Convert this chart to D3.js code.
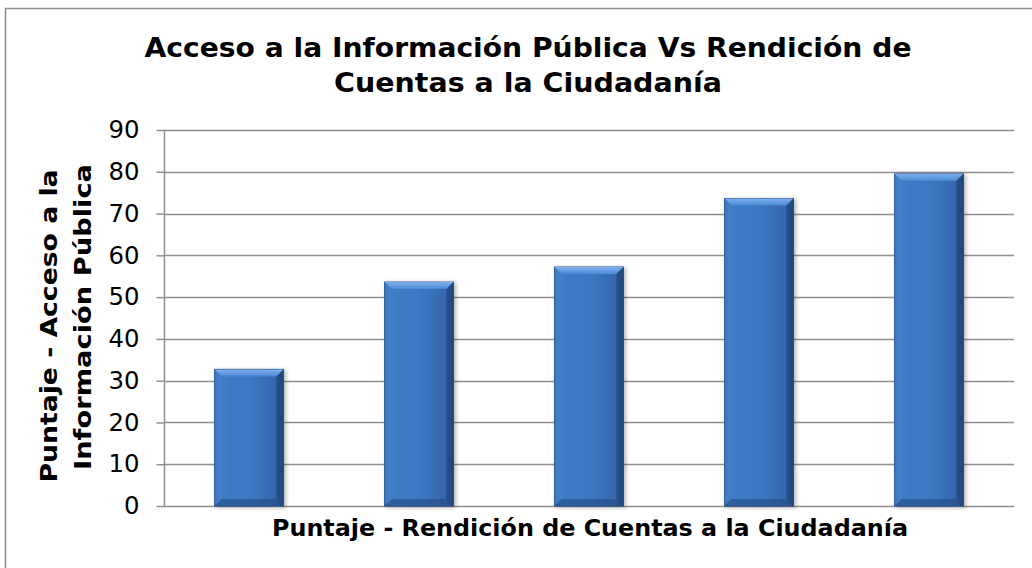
<!DOCTYPE html>
<html>
<head>
<meta charset="utf-8">
<script src="https://cdn.jsdelivr.net/npm/d3@7"></script>
<style>
  html, body { margin: 0; padding: 0; background: #fff; }
  svg { display: block; }
</style>
</head>
<body>
<svg id="chart" width="1032" height="568"></svg>
<script>
// Scores per entity (bars, left to right)
const categories = ["1", "2", "3", "4", "5"];
const values = [32.7, 53.6, 57.2, 73.6, 79.5];
const yTicks = [0, 10, 20, 30, 40, 50, 60, 70, 80, 90];

const titleLines = ["Acceso a la Información Pública Vs Rendición de", "Cuentas a la Ciudadanía"];
const yTitleLines = ["Puntaje - Acceso a la", "Información Pública"];
const xTitle = "Puntaje - Rendición de Cuentas a la Ciudadanía";

const svg = d3.select("#chart");
const W = 1032, H = 568;
const margin = { left: 164, right: 18, top: 130, bottom: 62 };

const x = d3.scaleBand().domain(categories).range([margin.left, W - margin.right]).paddingInner(0.595).paddingOuter(0.2975);
const y = d3.scaleLinear().domain([0, 90]).range([H - margin.bottom, margin.top]);

const font = "Verdana, 'DejaVu Sans', sans-serif";

// outer frame
svg.append("rect").attr("x", 5.5).attr("y", 8.5).attr("width", W + 10).attr("height", H + 10)
  .attr("fill", "#fff").attr("stroke", "#8c8c8c").attr("stroke-width", 1.5);

// gradients for the bevelled bars
const defs = svg.append("defs");
const body = defs.append("linearGradient").attr("id", "barBody").attr("x1", 0).attr("x2", 1).attr("y1", 0).attr("y2", 0);
body.append("stop").attr("offset", "0%").attr("stop-color", "#2f63a6");
body.append("stop").attr("offset", "10%").attr("stop-color", "#3f7bc8");
body.append("stop").attr("offset", "50%").attr("stop-color", "#3d78c2");
body.append("stop").attr("offset", "88%").attr("stop-color", "#3568ae");
body.append("stop").attr("offset", "100%").attr("stop-color", "#21477c");
const topFace = defs.append("linearGradient").attr("id", "barTop").attr("x1", 0).attr("x2", 0).attr("y1", 0).attr("y2", 1);
topFace.append("stop").attr("offset", "0%").attr("stop-color", "#7fb0ec");
topFace.append("stop").attr("offset", "100%").attr("stop-color", "#4a8ad8");
const shadowF = defs.append("filter").attr("id", "shadow").attr("x", "-20%").attr("y", "-5%").attr("width", "140%").attr("height", "115%");
shadowF.append("feGaussianBlur").attr("in", "SourceAlpha").attr("stdDeviation", 2);
shadowF.append("feOffset").attr("dx", 2).attr("dy", 1).attr("result", "b");
shadowF.append("feComponentTransfer").append("feFuncA").attr("type", "linear").attr("slope", 0.3);
const merge = shadowF.append("feMerge");
merge.append("feMergeNode");
merge.append("feMergeNode").attr("in", "SourceGraphic");

// gridlines
svg.append("g").selectAll("line").data(yTicks).join("line")
  .attr("x1", margin.left).attr("x2", W - margin.right)
  .attr("y1", d => Math.round(y(d)) + 0.5).attr("y2", d => Math.round(y(d)) + 0.5)
  .attr("stroke", "#8f8f8f").attr("stroke-width", 1.5);

// bars
const bars = svg.append("g").selectAll("g").data(values).join("g").attr("filter", "url(#shadow)");
const bev = 7;
bars.append("rect")
  .attr("x", (d, i) => x(categories[i])).attr("y", d => y(d))
  .attr("width", x.bandwidth()).attr("height", d => y(0) - y(d))
  .attr("fill", "url(#barBody)").attr("stroke", "#264f86").attr("stroke-width", 1);
bars.append("path")
  .attr("d", (d, i) => {
    const x0 = x(categories[i]), x1 = x0 + x.bandwidth(), y0 = y(d);
    return `M${x0},${y0}L${x1},${y0}L${x1 - bev},${y0 + bev}L${x0 + bev},${y0 + bev}Z`;
  })
  .attr("fill", "url(#barTop)");
bars.append("path")
  .attr("d", (d, i) => {
    const x0 = x(categories[i]), y0 = y(d), yb = y(0);
    return `M${x0},${y0}L${x0 + bev},${y0 + bev}L${x0 + bev},${yb - bev}L${x0},${yb}Z`;
  })
  .attr("fill", "#4d86cf").attr("opacity", 0.55);
bars.append("path")
  .attr("d", (d, i) => {
    const x1 = x(categories[i]) + x.bandwidth(), y0 = y(d), yb = y(0);
    return `M${x1},${y0}L${x1 - bev},${y0 + bev}L${x1 - bev},${yb - bev}L${x1},${yb}Z`;
  })
  .attr("fill", "#1f4476").attr("opacity", 0.6);
bars.append("path")
  .attr("d", (d, i) => {
    const x0 = x(categories[i]), x1 = x0 + x.bandwidth(), yb = y(0);
    return `M${x0},${yb}L${x0 + bev},${yb - bev}L${x1 - bev},${yb - bev}L${x1},${yb}Z`;
  })
  .attr("fill", "#234b82").attr("opacity", 0.6);

// y axis
const yAxis = svg.append("g").attr("transform", `translate(${margin.left + 0.5},0)`)
  .call(d3.axisLeft(y).tickValues(yTicks).tickSize(8).tickPadding(17).tickFormat(d3.format("d")));
yAxis.select(".domain").attr("stroke", "#8f8f8f").attr("stroke-width", 1.5).attr("d", `M0,${y(0)}V${y(90)}`);
yAxis.selectAll(".tick line").attr("stroke", "#8f8f8f").attr("stroke-width", 1.5);
yAxis.selectAll(".tick text").attr("font-family", font).attr("font-size", 24).attr("fill", "#000")
  .attr("textLength", d => d === 0 ? 15.5 : 31).attr("lengthAdjust", "spacingAndGlyphs");

// title
const titleWidths = [767, 388];
svg.append("g").selectAll("text").data(titleLines).join("text")
  .attr("text-anchor", "middle").attr("font-family", font).attr("font-weight", "bold")
  .attr("font-size", 27).attr("fill", "#000")
  .attr("x", 528).attr("y", (d, i) => 57 + i * 35)
  .attr("textLength", (d, i) => titleWidths[i]).attr("lengthAdjust", "spacingAndGlyphs")
  .text(d => d);

// y axis title, one rotated line each
const yTitleWidths = [313, 306];
svg.append("g").selectAll("text").data(yTitleLines).join("text")
  .attr("transform", (d, i) => `translate(${57 + i * 34},${[326, 317][i]}) rotate(-90)`)
  .attr("text-anchor", "middle").attr("font-family", font).attr("font-weight", "bold")
  .attr("font-size", 23).attr("fill", "#000")
  .attr("textLength", (d, i) => yTitleWidths[i]).attr("lengthAdjust", "spacingAndGlyphs")
  .text(d => d);

// x axis title
svg.append("text").attr("x", 590).attr("y", 536)
  .attr("text-anchor", "middle").attr("font-family", font).attr("font-weight", "bold")
  .attr("font-size", 23).attr("fill", "#000")
  .attr("textLength", 636).attr("lengthAdjust", "spacingAndGlyphs")
  .text(xTitle);
</script>
</body>
</html>
